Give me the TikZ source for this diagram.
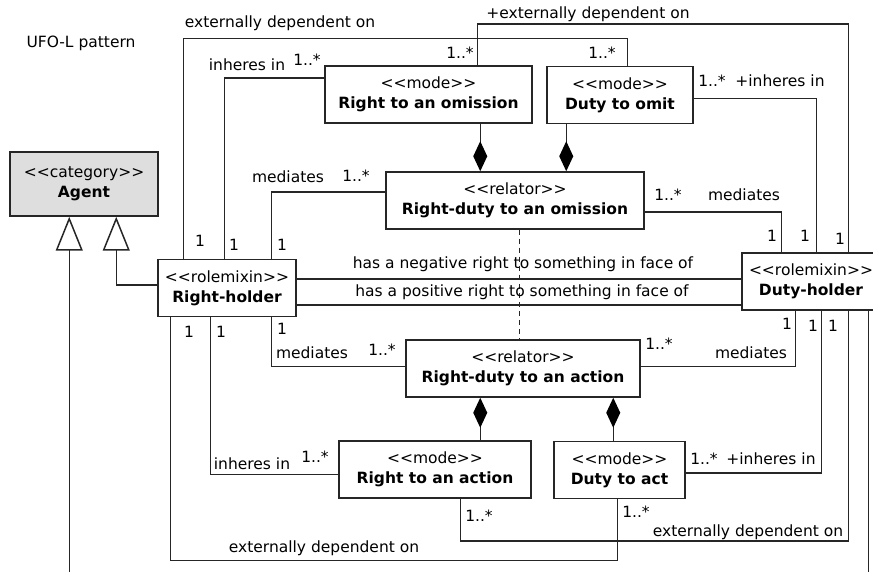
\documentclass[tikz,border=0pt]{standalone}
\usepackage{fontspec}
\setmainfont{DejaVu Sans}[Ligatures=TeXOff]
\usetikzlibrary{arrows.meta, calc}
\tikzset{
    uml-class/.style={
        draw=black!85, rectangle, fill=white, line width=1.5pt, align=center,
        inner sep=0pt, minimum height=57pt, font=\fontsize{15.5}{20}\selectfont
    },
    uml-label/.style={
        inner sep=0pt, text height=11pt, text depth=3pt, font=\fontsize{15.5}{18}\selectfont
    },
    uml-wire/.style={
        draw=black!85, line width=1.5pt
    },
    uml-comp/.style={
        uml-wire, {Diamond[length=30pt, width=14pt, color=black]}-
    },
    uml-gen/.style={
        uml-wire, -{Triangle[open, length=34pt, width=27pt, fill=white]}
    },
}

\begin{document}
\begin{tikzpicture}[x=1pt, y=-1pt]

        \useasboundingbox (0,0) rectangle (873,572);
        \clip (0,0) rectangle (873,572);

        % TITLE
        \node[uml-label] (TITLE) at (81,44) {UFO-L pattern};

        % CLASSES
        \node[uml-class, fill=black!13, minimum width=148pt, minimum height=64pt] (AGENT) at (84,184) {<<category>>\\\textbf{Agent}};
        \node[uml-class, minimum width=138pt] (RH)  at (227,288)    {<<rolemixin>>\\\textbf{Right-holder}};
        \node[uml-class, minimum width=138pt] (DH)  at (811,281.5)  {<<rolemixin>>\\\textbf{Duty-holder}};
        \node[uml-class, minimum width=207pt] (RO)  at (428.5,94.5) {<<mode>>\\\textbf{Right to an omission}};
        \node[uml-class, minimum width=146pt] (DO)  at (620,95)     {<<mode>>\\\textbf{Duty to omit}};
        \node[uml-class, minimum width=258pt] (RDO) at (515,200.5)  {<<relator>>\\\textbf{Right-duty to an omission}};
        \node[uml-class, minimum width=234pt] (RDA) at (523,368.5)  {<<relator>>\\\textbf{Right-duty to an action}};
        \node[uml-class, minimum width=192pt] (RA)  at (435,469.5)  {<<mode>>\\\textbf{Right to an action}};
        \node[uml-class, minimum width=131pt] (DA)  at (619.5,470)  {<<mode>>\\\textbf{Duty to act}};

        % CONNECTOR POINTS
        \coordinate (RHN1)  at ($(RH.north west) + (26,0)$);
        \coordinate (RHN2)  at ($(RH.north west) + (67,0)$);
        \coordinate (RHN3)  at ($(RH.north west) + (114,0)$);
        \coordinate (RHS1)  at ($(RH.south west) + (13,0)$);
        \coordinate (RHS2)  at ($(RH.south west) + (53,0)$);
        \coordinate (RHS3)  at ($(RH.south west) + (114,0)$);
        \coordinate (RHE1)  at ($(RH.north east) + (0,20)$);
        \coordinate (RHE2)  at ($(RH.north east) + (0,46)$);
        \coordinate (RHW1)  at ($(RH.north west) + (0,26)$);
        \coordinate (DHN1)  at ($(DH.north west) + (40,0)$);
        \coordinate (DHN2)  at ($(DH.north west) + (75,0)$);
        \coordinate (DHN3)  at ($(DH.north west) + (107,0)$);
        \coordinate (DHS1)  at ($(DH.south west) + (54,0)$);
        \coordinate (DHS2)  at ($(DH.south west) + (80,0)$);
        \coordinate (DHS3)  at ($(DH.south west) + (107,0)$);
        \coordinate (DHS4)  at ($(DH.south west) + (127,0)$);
        \coordinate (RON1)  at ($(RO.north west) + (153,0)$);
        \coordinate (ROS1)  at ($(RO.south west) + (156,0)$);
        \coordinate (ROW1)  at ($(RO.north west) + (0,13)$);
        \coordinate (DON1)  at ($(DO.north west) + (81,0)$);
        \coordinate (DOS1)  at ($(DO.south west) + (20,0)$);
        \coordinate (DOE1)  at ($(DO.north east) + (0,33)$);
        \coordinate (RDON1) at ($(RDO.north west) + (95,0)$);
        \coordinate (RDON2) at ($(RDO.north west) + (181,0)$);
        \coordinate (RDOS1) at ($(RDO.south west) + (134,0)$);
        \coordinate (RDOW1) at ($(RDO.north west) + (0,21)$);
        \coordinate (RDOE1) at ($(RDO.north east) + (0,41)$);
        \coordinate (RDAS1) at ($(RDA.south west) + (75,0)$);
        \coordinate (RDAS2) at ($(RDA.south west) + (208,0)$);
        \coordinate (RDAW1) at ($(RDA.north west) + (0,27)$);
        \coordinate (RDAE1) at ($(RDA.north east) + (0,27)$);
        \coordinate (RAN1)  at ($(RA.north west) + (142,0)$);
        \coordinate (RAS1)  at ($(RA.south west) + (122,0)$);
        \coordinate (RAW1)  at ($(RA.north west) + (0,34)$);
        \coordinate (DAN1)  at ($(DA.north west) + (60,0)$);
        \coordinate (DAS1)  at ($(DA.south west) + (64,0)$);
        \coordinate (DAE1)  at ($(DA.north east) + (0,32)$);
        \coordinate (AGS1)  at ($(AGENT.south west) + (60,0)$);
        \coordinate (AGS2)  at ($(AGENT.south west) + (107,0)$);

        % GENERALIZATIONS
        \draw[uml-gen] (RHW1) -| (AGS2);
        \draw[uml-gen] (DHS4) -- ($(DHS4) + (0,300)$) -| (AGS1);

        % COMPOSITIONS
        \draw[uml-comp] (RDON1) -- (ROS1);
        \draw[uml-comp] (RDON2) -- (DOS1);
        \draw[uml-comp] (RDAS1) -- (RAN1);
        \draw[uml-comp] (RDAS2) -- (DAN1);
        \draw[uml-wire, dash pattern=on 5pt off 4pt] (RDOS1) -- (RDOS1 |- RDA.north);

        % RIGHT-HOLDER CONNECTIONS
        \draw[uml-wire] (RHN1) |- ($(DON1) + (0,-27)$) -- (DON1);
        \draw[uml-wire] (RHN2) |- (ROW1);
        \draw[uml-wire] (RHN3) |- (RDOW1);
        \draw[uml-wire] (RHS1) |- ($(DAS1) + (0,61)$) -- (DAS1);
        \draw[uml-wire] (RHS2) |- (RAW1);
        \draw[uml-wire] (RHS3) |- (RDAW1);
        \draw[uml-wire] (RHE1) -- (RHE1 -| DH.west);
        \draw[uml-wire] (RHE2) -- (RHE2 -| DH.west);

        % DUTY-HOLDER CONNECTIONS
        \draw[uml-wire] (RON1) -- ($(RON1) + (0,-41)$) -| (DHN3);
        \draw[uml-wire] (DOE1) -| (DHN2);
        \draw[uml-wire] (RDOE1) -| (DHN1);
        \draw[uml-wire] (RAS1) -- ($(RAS1) + (0,42)$) -| (DHS3);
        \draw[uml-wire] (DAE1) -| (DHS2);
        \draw[uml-wire] (RDAE1) -| (DHS1);

        % ROLE NAMES
        \node[uml-label] (EXT1) at (280,24)  {externally dependent on};
        \node[uml-label] (EXT2) at (588,15)  {+externally dependent on};
        \node[uml-label] (EXT3) at (324,548) {externally dependent on};
        \node[uml-label] (EXT4) at (748,532) {externally dependent on};
        \node[uml-label] (INH1) at (247,67)  {inheres in};
        \node[uml-label] (INH2) at (780,83)  {+inheres in};
        \node[uml-label] (INH3) at (252,465) {inheres in};
        \node[uml-label] (INH4) at (771,460) {+inheres in};
        \node[uml-label] (MED1) at (288,179) {mediates};
        \node[uml-label] (MED2) at (744,197) {mediates};
        \node[uml-label] (MED3) at (312,354) {mediates};
        \node[uml-label] (MED4) at (751,354) {mediates};
        \node[uml-label] (NEG)  at (523,265) {has a negative right to something in face of};
        \node[uml-label] (POS)  at (522,292) {has a positive right to something in face of};

        % MULTIPLICITIES
        \node[uml-label] (M1)  at (307,62)  {1..*};
        \node[uml-label] (M2)  at (460,55)  {1..*};
        \node[uml-label] (M3)  at (602,55)  {1..*};
        \node[uml-label] (M4)  at (712,83)  {1..*};
        \node[uml-label] (M5)  at (356,178) {1..*};
        \node[uml-label] (M6)  at (668,197) {1..*};
        \node[uml-label] (M7)  at (382,351) {1..*};
        \node[uml-label] (M8)  at (659,345) {1..*};
        \node[uml-label] (M9)  at (315,458) {1..*};
        \node[uml-label] (M10) at (704,460) {1..*};
        \node[uml-label] (M11) at (479,517) {1..*};
        \node[uml-label] (M12) at (636,513) {1..*};
        \node[uml-label] (O1)  at (200,243) {1};
        \node[uml-label] (O2)  at (234,247) {1};
        \node[uml-label] (O3)  at (282,247) {1};
        \node[uml-label] (O4)  at (772,238) {1};
        \node[uml-label] (O5)  at (805,238) {1};
        \node[uml-label] (O6)  at (840,240) {1};
        \node[uml-label] (O7)  at (189,333) {1};
        \node[uml-label] (O8)  at (221,333) {1};
        \node[uml-label] (O9)  at (282,330) {1};
        \node[uml-label] (O10) at (787,325) {1};
        \node[uml-label] (O11) at (813,327) {1};
        \node[uml-label] (O12) at (833,327) {1};

    \end{tikzpicture}
\end{document}
